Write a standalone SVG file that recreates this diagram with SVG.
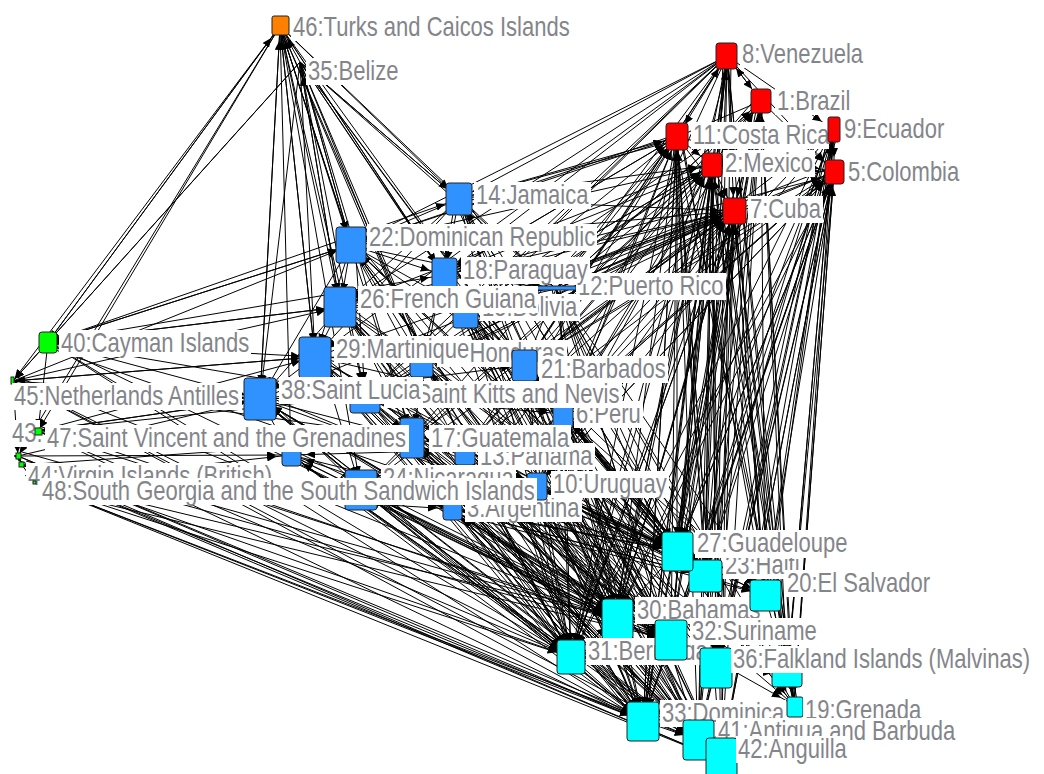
<svg xmlns="http://www.w3.org/2000/svg" width="1044" height="774" viewBox="0 0 1044 774">
<style>
.e path{fill:none;stroke:#000;stroke-width:1;marker-end:url(#a)}
.e path.s{marker-end:url(#s)}
.n rect{stroke:#222;stroke-width:1}
.n rect.lb{fill:#fff;stroke:none}
.r{fill:#ff0000}.b{fill:#3092ff}.c{fill:#00ffff}.g{fill:#00ff00}.o{fill:#ff8000}
.t{font-family:"Liberation Sans",Arial,sans-serif;font-size:27.5px;fill:#84858b}
</style>
<defs>
<marker id="a" markerUnits="userSpaceOnUse" markerWidth="26" markerHeight="8" refX="24" refY="4" orient="auto"><path d="M0 0L9 4L0 8z" fill="#000"/></marker>
<marker id="s" markerUnits="userSpaceOnUse" markerWidth="14" markerHeight="8" refX="12" refY="4" orient="auto"><path d="M0 0L9 4L0 8z" fill="#000"/></marker>
</defs>
<rect width="1044" height="774" fill="#fff"/>
<g id="edges" class="e">
<path d="M727 56L761 101"/><path d="M727 56L677 137"/><path d="M727 56L712 165"/><path d="M727 56L734 211"/><path d="M727 56L834 172"/><path d="M727 56L834 130"/><path d="M761 101L677 137"/><path d="M761 101L712 165"/><path d="M761 101L834 172"/><path d="M834 130L834 172"/><path d="M677 137L712 165"/><path d="M677 137L734 211"/><path d="M712 165L734 211"/><path d="M712 165L834 172"/><path d="M734 211L834 172"/><path d="M677 137L834 172"/><path d="M761 101L734 211"/><path d="M761 101L727 56"/>
<path d="M727 56L459 199"/><path d="M727 56L351 245"/><path d="M727 56L340 307"/><path d="M727 56L444 275"/><path d="M727 56L466 309"/><path d="M727 56L315 357"/><path d="M727 56L556 289"/><path d="M727 56L525 365"/><path d="M727 56L421 358"/><path d="M727 56L563 414"/><path d="M727 56L365 396"/>
<path d="M280 26L351 245"/><path d="M280 26L340 307"/><path d="M280 26L315 357"/><path d="M280 26L260 399"/><path d="M280 26L459 199"/><path d="M280 26L444 275"/><path d="M280 26L466 309"/><path d="M280 26L421 358"/><path d="M280 26L365 396"/><path d="M280 26L412 438"/><path class="s" d="M280 26L48 342"/><path class="s" d="M280 26L13 381"/><path class="s" d="M280 26L38 431"/><path class="s" d="M280 26L18 456"/><path d="M280 26L556 289"/><path d="M280 26L525 365"/><path d="M280 26L291 455"/><path d="M280 26L361 490"/><path d="M280 26L465 450"/><path d="M351 245L280 26"/><path d="M315 357L280 26"/><path d="M260 399L280 26"/><path d="M48 342L280 26"/><path d="M300 62L280 26"/>
<path d="M300 62L351 245"/><path d="M300 62L340 307"/><path d="M300 62L315 357"/><path d="M300 62L459 199"/><path d="M300 62L444 275"/><path d="M300 62L466 309"/><path d="M300 62L421 358"/><path d="M300 62L525 365"/><path d="M300 62L556 289"/><path d="M300 62L365 396"/><path d="M300 62L563 414"/><path d="M300 62L412 438"/><path d="M300 62L260 399"/><path class="s" d="M300 62L48 342"/><path class="s" d="M300 62L13 381"/><path d="M300 62L465 450"/><path d="M459 199L300 62"/><path d="M351 245L300 62"/><path d="M340 307L300 62"/>
<path d="M48 342L351 245"/><path d="M48 342L340 307"/><path d="M48 342L315 357"/><path d="M48 342L459 199"/><path d="M48 342L444 275"/><path d="M48 342L260 399"/><path class="s" d="M351 245L48 342"/><path d="M13 381L351 245"/><path d="M13 381L340 307"/><path d="M13 381L315 357"/><path d="M13 381L260 399"/><path d="M38 431L260 399"/><path d="M38 431L315 357"/><path d="M18 456L260 399"/><path d="M22 465L412 438"/><path d="M35 483L361 490"/><path d="M35 483L291 455"/><path d="M38 431L365 396"/><path class="s" d="M48 342L13 381"/><path class="s" d="M13 381L18 456"/><path class="s" d="M48 342L38 431"/><path class="s" d="M22 465L35 483"/><path class="s" d="M18 456L22 465"/><path class="s" d="M340 307L48 342"/><path class="s" d="M315 357L13 381"/><path class="s" d="M260 399L38 431"/>
<path d="M13 381L412 438"/><path d="M38 431L412 438"/><path d="M22 465L361 490"/><path d="M35 483L452 509"/><path d="M48 342L365 396"/><path d="M18 456L291 455"/>
<path d="M35 483L643 721"/><path d="M35 483L571 657"/><path d="M35 483L698 740"/><path d="M22 465L643 721"/><path d="M22 465L571 657"/><path d="M18 456L643 721"/><path d="M18 456L698 740"/><path d="M38 431L571 657"/><path d="M38 431L643 721"/><path d="M38 431L617 618"/><path d="M13 381L571 657"/><path d="M13 381L643 721"/><path d="M48 342L571 657"/><path d="M48 342L643 721"/><path d="M48 342L617 618"/><path d="M35 483L721 760"/><path d="M13 381L698 740"/><path d="M22 465L721 760"/>
<path d="M44 346L705 576"/><path d="M17 377L617 618"/><path d="M42 427L671 640"/><path d="M22 452L617 618"/><path d="M26 461L671 640"/><path d="M39 479L617 618"/><path d="M35 487L671 640"/><path d="M18 460L721 760"/>
<path d="M459 199L351 245"/><path d="M459 199L340 307"/><path d="M459 199L444 275"/><path d="M459 199L315 357"/><path d="M351 245L340 307"/><path d="M351 245L444 275"/><path d="M351 245L315 357"/><path d="M351 245L260 399"/><path d="M351 245L466 309"/><path d="M340 307L315 357"/><path d="M340 307L260 399"/><path d="M340 307L466 309"/><path d="M340 307L421 358"/><path d="M444 275L466 309"/><path d="M444 275L556 289"/><path d="M315 357L260 399"/><path d="M315 357L421 358"/><path d="M315 357L365 396"/><path d="M315 357L525 365"/><path d="M260 399L365 396"/><path d="M260 399L412 438"/><path d="M260 399L291 455"/><path d="M421 358L525 365"/><path d="M421 358L365 396"/><path d="M365 396L412 438"/><path d="M365 396L563 414"/><path d="M412 438L465 450"/><path d="M412 438L361 490"/><path d="M465 450L537 486"/><path d="M465 450L452 509"/><path d="M361 490L452 509"/><path d="M291 455L361 490"/><path d="M525 365L563 414"/><path d="M466 309L525 365"/><path d="M556 289L525 365"/><path d="M563 414L537 486"/><path d="M351 245L556 289"/><path d="M340 307L556 289"/><path d="M260 399L525 365"/><path d="M315 357L563 414"/><path d="M459 199L556 289"/><path d="M351 245L525 365"/>
<path d="M455 203L412 438"/><path d="M355 241L365 396"/><path d="M344 303L412 438"/><path d="M319 353L361 490"/><path d="M264 395L361 490"/><path d="M425 354L465 450"/><path d="M528 360L537 486"/><path d="M566 410L452 509"/><path d="M448 271L525 365"/><path d="M470 305L563 414"/><path d="M560 293L563 414"/><path d="M416 434L537 486"/><path d="M369 392L465 450"/><path d="M465 450L291 455"/><path d="M537 486L361 490"/><path d="M452 509L291 455"/><path d="M525 365L465 450"/><path d="M444 275L421 358"/><path d="M466 309L365 396"/><path d="M556 289L466 309"/>
<path d="M459 199L677 137"/><path d="M459 199L712 165"/><path d="M459 199L734 211"/><path d="M351 245L677 137"/><path d="M351 245L712 165"/><path d="M351 245L734 211"/><path d="M444 275L734 211"/><path d="M444 275L677 137"/><path d="M556 289L734 211"/><path d="M556 289L712 165"/><path d="M556 289L834 172"/><path d="M466 309L734 211"/><path d="M466 309L712 165"/><path d="M525 365L734 211"/><path d="M525 365L834 172"/><path d="M563 414L734 211"/><path d="M563 414L834 172"/><path d="M537 486L734 211"/><path d="M537 486L834 172"/><path d="M465 450L734 211"/><path d="M452 509L734 211"/><path d="M452 509L712 165"/><path d="M340 307L734 211"/><path d="M315 357L734 211"/><path d="M421 358L734 211"/><path d="M421 358L712 165"/><path d="M365 396L734 211"/><path d="M412 438L734 211"/><path d="M412 438L712 165"/><path d="M361 490L734 211"/><path d="M260 399L734 211"/><path d="M537 486L712 165"/><path d="M563 414L677 137"/><path d="M525 365L677 137"/><path d="M465 450L834 172"/><path d="M452 509L834 172"/><path d="M556 289L677 137"/><path d="M556 289L761 101"/><path d="M466 309L677 137"/><path d="M734 211L556 289"/><path d="M734 211L525 365"/><path d="M677 137L444 275"/><path d="M712 165L466 309"/><path d="M834 172L563 414"/><path d="M834 172L537 486"/><path d="M834 130L525 365"/><path d="M834 130L537 486"/><path d="M761 101L556 289"/>
<path d="M673 141L459 199"/><path d="M681 133L351 245"/><path d="M708 169L444 275"/><path d="M716 161L340 307"/><path d="M738 207L466 309"/><path d="M730 215L421 358"/><path d="M738 215L365 396"/><path d="M838 176L525 365"/><path d="M830 168L466 309"/><path d="M830 176L444 275"/><path d="M834 126L563 414"/><path d="M765 105L466 309"/><path d="M757 97L525 365"/>
<path d="M541 482L677 137"/><path d="M448 513L677 137"/><path d="M469 446L761 101"/><path d="M567 410L761 101"/><path d="M529 361L727 56"/><path d="M461 453L712 165"/><path d="M357 494L712 165"/><path d="M408 442L677 137"/><path d="M563 418L712 165"/><path d="M365 400L712 165"/>
<path d="M727 56L677 551"/><path d="M727 56L705 576"/><path d="M727 56L765 595"/><path d="M727 56L617 618"/><path d="M727 56L671 640"/><path d="M727 56L716 668"/><path d="M727 56L794 705"/><path d="M727 56L643 721"/>
<path d="M761 101L677 551"/><path d="M761 101L705 576"/><path d="M761 101L765 595"/><path d="M761 101L671 640"/><path d="M761 101L716 668"/><path d="M761 101L787 674"/><path d="M761 101L794 705"/><path d="M761 101L698 740"/><path d="M761 101L721 760"/>
<path d="M677 137L677 551"/><path d="M677 137L705 576"/><path d="M677 137L617 618"/><path d="M677 137L671 640"/><path d="M677 137L571 657"/><path d="M677 137L716 668"/><path d="M677 137L643 721"/><path d="M677 137L698 740"/>
<path d="M834 130L677 551"/><path d="M834 130L705 576"/><path d="M834 130L765 595"/><path d="M834 130L716 668"/><path d="M834 130L787 674"/><path d="M834 130L794 705"/><path d="M834 130L721 760"/>
<path d="M712 165L677 551"/><path d="M712 165L705 576"/><path d="M712 165L765 595"/><path d="M712 165L617 618"/><path d="M712 165L671 640"/><path d="M712 165L571 657"/><path d="M712 165L716 668"/><path d="M712 165L643 721"/><path d="M712 165L698 740"/><path d="M712 165L721 760"/>
<path d="M834 172L677 551"/><path d="M834 172L705 576"/><path d="M834 172L765 595"/><path d="M834 172L617 618"/><path d="M834 172L671 640"/><path d="M834 172L716 668"/><path d="M834 172L787 674"/><path d="M834 172L794 705"/><path d="M834 172L643 721"/><path d="M834 172L698 740"/><path d="M834 172L721 760"/>
<path d="M734 211L677 551"/><path d="M734 211L705 576"/><path d="M734 211L765 595"/><path d="M734 211L617 618"/><path d="M734 211L671 640"/><path d="M734 211L571 657"/><path d="M734 211L716 668"/><path d="M734 211L787 674"/><path d="M734 211L794 705"/><path d="M734 211L643 721"/><path d="M734 211L698 740"/><path d="M734 211L721 760"/>
<path d="M731 52L571 657"/><path d="M723 60L698 740"/><path d="M731 60L721 760"/><path d="M727 52L787 674"/><path d="M765 97L617 618"/><path d="M757 105L643 721"/><path d="M765 105L571 657"/><path d="M681 133L765 595"/><path d="M673 141L721 760"/><path d="M681 141L787 674"/><path d="M673 133L794 705"/><path d="M838 126L617 618"/><path d="M830 134L671 640"/><path d="M838 134L643 721"/><path d="M830 126L698 740"/><path d="M834 126L571 657"/><path d="M716 161L787 674"/><path d="M708 169L794 705"/><path d="M838 168L571 657"/>
<path d="M677 551L834 172"/><path d="M765 595L734 211"/><path d="M716 668L712 165"/><path d="M794 705L834 172"/><path d="M643 721L677 137"/><path d="M617 618L734 211"/><path d="M671 640L727 56"/><path d="M698 740L734 211"/><path d="M705 576L712 165"/><path d="M787 674L834 130"/><path d="M721 760L834 172"/><path d="M571 657L734 211"/>
<path d="M681 547L761 101"/><path d="M709 572L677 137"/><path d="M769 591L834 130"/><path d="M791 670L761 101"/><path d="M720 664L834 130"/><path d="M797 701L712 165"/><path d="M647 717L712 165"/><path d="M674 636L834 172"/><path d="M614 614L712 165"/>
<path d="M459 199L677 551"/><path d="M459 199L617 618"/><path d="M459 199L571 657"/><path d="M459 199L671 640"/><path d="M459 199L643 721"/><path d="M459 199L716 668"/><path d="M459 199L698 740"/>
<path d="M351 245L677 551"/><path d="M351 245L705 576"/><path d="M351 245L617 618"/><path d="M351 245L571 657"/><path d="M351 245L671 640"/><path d="M351 245L643 721"/><path d="M351 245L698 740"/><path d="M351 245L721 760"/>
<path d="M444 275L677 551"/><path d="M444 275L705 576"/><path d="M444 275L617 618"/><path d="M444 275L571 657"/><path d="M444 275L643 721"/><path d="M444 275L716 668"/>
<path d="M556 289L677 551"/><path d="M556 289L705 576"/><path d="M556 289L765 595"/><path d="M556 289L617 618"/><path d="M556 289L671 640"/><path d="M556 289L716 668"/><path d="M556 289L794 705"/>
<path d="M340 307L677 551"/><path d="M340 307L617 618"/><path d="M340 307L571 657"/><path d="M340 307L671 640"/><path d="M340 307L643 721"/><path d="M340 307L698 740"/><path d="M340 307L721 760"/><path d="M340 307L716 668"/>
<path d="M466 309L677 551"/><path d="M466 309L705 576"/><path d="M466 309L617 618"/><path d="M466 309L571 657"/><path d="M466 309L671 640"/><path d="M466 309L643 721"/><path d="M466 309L716 668"/>
<path d="M315 357L677 551"/><path d="M315 357L705 576"/><path d="M315 357L617 618"/><path d="M315 357L571 657"/><path d="M315 357L671 640"/><path d="M315 357L643 721"/><path d="M315 357L698 740"/><path d="M315 357L721 760"/>
<path d="M421 358L677 551"/><path d="M421 358L617 618"/><path d="M421 358L571 657"/><path d="M421 358L643 721"/><path d="M421 358L716 668"/><path d="M421 358L698 740"/>
<path d="M525 365L677 551"/><path d="M525 365L705 576"/><path d="M525 365L765 595"/><path d="M525 365L671 640"/><path d="M525 365L716 668"/><path d="M525 365L794 705"/><path d="M525 365L787 674"/>
<path d="M260 399L677 551"/><path d="M260 399L617 618"/><path d="M260 399L571 657"/><path d="M260 399L671 640"/><path d="M260 399L643 721"/><path d="M260 399L698 740"/><path d="M260 399L721 760"/><path d="M260 399L716 668"/>
<path d="M365 396L677 551"/><path d="M365 396L705 576"/><path d="M365 396L617 618"/><path d="M365 396L571 657"/><path d="M365 396L643 721"/><path d="M365 396L698 740"/><path d="M365 396L716 668"/>
<path d="M563 414L677 551"/><path d="M563 414L705 576"/><path d="M563 414L765 595"/><path d="M563 414L617 618"/><path d="M563 414L671 640"/><path d="M563 414L716 668"/><path d="M563 414L787 674"/><path d="M563 414L794 705"/>
<path d="M412 438L677 551"/><path d="M412 438L617 618"/><path d="M412 438L571 657"/><path d="M412 438L671 640"/><path d="M412 438L643 721"/><path d="M412 438L698 740"/><path d="M412 438L721 760"/>
<path d="M465 450L677 551"/><path d="M465 450L705 576"/><path d="M465 450L617 618"/><path d="M465 450L571 657"/><path d="M465 450L671 640"/><path d="M465 450L643 721"/><path d="M465 450L716 668"/>
<path d="M291 455L617 618"/><path d="M291 455L571 657"/><path d="M291 455L643 721"/><path d="M291 455L698 740"/><path d="M291 455L721 760"/><path d="M291 455L677 551"/>
<path d="M361 490L677 551"/><path d="M361 490L617 618"/><path d="M361 490L571 657"/><path d="M361 490L671 640"/><path d="M361 490L643 721"/><path d="M361 490L698 740"/><path d="M361 490L721 760"/>
<path d="M537 486L677 551"/><path d="M537 486L705 576"/><path d="M537 486L765 595"/><path d="M537 486L617 618"/><path d="M537 486L671 640"/><path d="M537 486L571 657"/><path d="M537 486L716 668"/><path d="M537 486L794 705"/><path d="M537 486L643 721"/>
<path d="M452 509L677 551"/><path d="M452 509L705 576"/><path d="M452 509L617 618"/><path d="M452 509L571 657"/><path d="M452 509L671 640"/><path d="M452 509L643 721"/><path d="M452 509L698 740"/><path d="M452 509L721 760"/>
<path d="M540 480L721 760"/><path d="M534 492L698 740"/><path d="M540 490L787 674"/><path d="M455 505L716 668"/><path d="M449 512L765 595"/><path d="M455 514L794 705"/><path d="M468 446L698 740"/><path d="M462 454L721 760"/><path d="M470 452L765 595"/><path d="M560 418L571 657"/><path d="M566 410L643 721"/><path d="M560 410L698 740"/><path d="M566 418L721 760"/><path d="M365 486L705 576"/><path d="M357 494L716 668"/><path d="M416 434L705 576"/><path d="M408 442L716 668"/><path d="M369 392L671 640"/><path d="M361 400L721 760"/><path d="M528 360L617 618"/><path d="M522 370L571 657"/><path d="M528 370L643 721"/><path d="M522 360L698 740"/><path d="M530 366L721 760"/><path d="M425 354L705 576"/><path d="M417 362L671 640"/><path d="M425 362L721 760"/><path d="M319 353L716 668"/><path d="M264 395L705 576"/><path d="M344 303L705 576"/><path d="M355 241L716 668"/><path d="M470 305L698 740"/><path d="M462 313L721 760"/><path d="M448 271L671 640"/><path d="M440 279L698 740"/><path d="M448 279L721 760"/><path d="M463 195L705 576"/><path d="M455 203L721 760"/><path d="M560 289L571 657"/><path d="M552 289L643 721"/><path d="M560 291L698 740"/><path d="M556 292L787 674"/><path d="M295 451L671 640"/><path d="M287 459L716 668"/>
<path d="M571 657L260 399"/><path d="M643 721L315 357"/><path d="M617 618L351 245"/><path d="M677 551L459 199"/><path d="M698 740L340 307"/><path d="M671 640L412 438"/><path d="M643 721L361 490"/><path d="M571 657L465 450"/><path d="M617 618L452 509"/><path d="M677 551L537 486"/>
<path d="M674 555L351 245"/><path d="M620 614L260 399"/><path d="M568 661L315 357"/><path d="M646 717L340 307"/><path d="M701 736L452 509"/><path d="M668 644L537 486"/><path d="M713 672L465 450"/><path d="M702 580L563 414"/><path d="M640 725L412 438"/><path d="M614 622L361 490"/><path d="M574 653L291 455"/><path d="M680 547L525 365"/>
<path d="M677 551L705 576"/><path d="M705 576L765 595"/><path d="M617 618L671 640"/><path d="M571 657L617 618"/><path d="M671 640L716 668"/><path d="M716 668L787 674"/><path d="M787 674L794 705"/><path d="M643 721L698 740"/><path d="M698 740L721 760"/><path d="M571 657L643 721"/><path d="M677 551L617 618"/><path d="M716 668L698 740"/><path d="M765 595L787 674"/><path d="M671 640L643 721"/>
</g>
<g id="n35" class="n"><rect class="lb" x="306" y="58" width="95" height="27"/><text class="t" transform="translate(308 80) scale(.8 1)">35:Belize</text></g>
<g id="n46" class="n"><rect class="o" x="272" y="16" width="17" height="19" rx="2"/><rect class="lb" x="291" y="14" width="282" height="27"/><text class="t" transform="translate(293 36) scale(.8 1)">46:Turks and Caicos Islands</text></g>
<g id="n8" class="n"><rect class="r" x="716" y="43" width="21" height="26" rx="3"/><rect class="lb" x="740" y="41" width="126" height="27"/><text class="t" transform="translate(742 63) scale(.8 1)">8:Venezuela</text></g>
<g id="n1" class="n"><rect class="r" x="751" y="89" width="20" height="24" rx="3"/><rect class="lb" x="775" y="88" width="77" height="27"/><text class="t" transform="translate(777 110) scale(.8 1)">1:Brazil</text></g>
<g id="n11" class="n"><rect class="r" x="666" y="123" width="22" height="27" rx="3"/><rect class="lb" x="691" y="122" width="138" height="27"/><text class="t" transform="translate(693 144) scale(.8 1)">11:Costa Rica</text></g>
<g id="n9" class="n"><rect class="r" x="828" y="117" width="12" height="25" rx="2"/><rect class="lb" x="842" y="116" width="104" height="27"/><text class="t" transform="translate(844 138) scale(.8 1)">9:Ecuador</text></g>
<g id="n2" class="n"><rect class="r" x="702" y="153" width="20" height="24" rx="3"/><rect class="lb" x="723" y="150" width="92" height="27"/><text class="t" transform="translate(725 172) scale(.8 1)">2:Mexico</text></g>
<g id="n5" class="n"><rect class="r" x="825" y="160" width="19" height="24" rx="3"/><rect class="lb" x="846" y="159" width="115" height="27"/><text class="t" transform="translate(848 181) scale(.8 1)">5:Colombia</text></g>
<g id="n7" class="n"><rect class="r" x="723" y="198" width="23" height="26" rx="3"/><rect class="lb" x="748" y="196" width="75" height="27"/><text class="t" transform="translate(750 218) scale(.8 1)">7:Cuba</text></g>
<g id="n14" class="n"><rect class="b" x="446" y="183" width="26" height="32" rx="3"/><rect class="lb" x="474" y="182" width="117" height="27"/><text class="t" transform="translate(476 204) scale(.8 1)">14:Jamaica</text></g>
<g id="n12" class="n"><rect class="b" x="537" y="286" width="39" height="4"/><rect class="lb" x="576" y="273" width="150" height="27"/><text class="t" transform="translate(578 295) scale(.8 1)">12:Puerto Rico</text></g>
<g id="n22" class="n"><rect class="b" x="336" y="227" width="30" height="36" rx="3"/><rect class="lb" x="367" y="224" width="230" height="27"/><text class="t" transform="translate(369 246) scale(.8 1)">22:Dominican Republic</text></g>
<g id="n18" class="n"><rect class="b" x="432" y="258" width="25" height="34" rx="3"/><rect class="lb" x="461" y="257" width="129" height="27"/><text class="t" transform="translate(463 279) scale(.8 1)">18:Paraguay</text></g>
<g id="n15" class="n"><rect class="b" x="453" y="290" width="25" height="38" rx="3"/><rect class="lb" x="480" y="294" width="100" height="27"/><text class="t" transform="translate(482 316) scale(.8 1)">15:Bolivia</text></g>
<g id="n26" class="n"><rect class="b" x="324" y="287" width="32" height="40" rx="3"/><rect class="lb" x="358" y="286" width="180" height="27"/><text class="t" transform="translate(360 308) scale(.8 1)">26:French Guiana</text></g>
<g id="n16" class="n"><rect class="b" x="410" y="340" width="23" height="37" rx="3"/><rect class="lb" x="437" y="340" width="130" height="27"/><text class="t" transform="translate(439 362) scale(.8 1)">16:Honduras</text></g>
<g id="n29" class="n"><rect class="b" x="299" y="337" width="32" height="41" rx="3"/><rect class="lb" x="334" y="336" width="137" height="27"/><text class="t" transform="translate(336 358) scale(.8 1)">29:Martinique</text></g>
<g id="n21" class="n"><rect class="b" x="512" y="350" width="25" height="31" rx="3"/><rect class="lb" x="539" y="356" width="129" height="27"/><text class="t" transform="translate(541 378) scale(.8 1)">21:Barbados</text></g>
<g id="n6" class="n"><rect class="b" x="553" y="400" width="20" height="28" rx="3"/><rect class="lb" x="574" y="401" width="69" height="27"/><text class="t" transform="translate(576 423) scale(.8 1)">6:Peru</text></g>
<g id="n25" class="n"><rect class="b" x="350" y="380" width="30" height="33" rx="3"/><rect class="lb" x="384" y="381" width="238" height="27"/><text class="t" transform="translate(386 403) scale(.8 1)">25:Saint Kitts and Nevis</text></g>
<g id="n38" class="n"><rect class="b" x="244" y="378" width="32" height="42" rx="3"/><rect class="lb" x="279" y="377" width="144" height="27"/><text class="t" transform="translate(281 399) scale(.8 1)">38:Saint Lucia</text></g>
<g id="n45" class="n"><rect class="g" x="11" y="377" width="3" height="7"/><rect class="lb" x="12" y="383" width="230" height="27"/><text class="t" transform="translate(14 405) scale(.8 1)">45:Netherlands Antilles</text></g>
<g id="n40" class="n"><rect class="g" x="39" y="332" width="18" height="21" rx="3"/><rect class="lb" x="59" y="330" width="192" height="27"/><text class="t" transform="translate(61 352) scale(.8 1)">40:Cayman Islands</text></g>
<g id="n13" class="n"><rect class="b" x="455" y="435" width="20" height="30" rx="3"/><rect class="lb" x="478" y="443" width="117" height="27"/><text class="t" transform="translate(480 465) scale(.8 1)">13:Panama</text></g>
<g id="n17" class="n"><rect class="b" x="400" y="418" width="24" height="40" rx="3"/><rect class="lb" x="429" y="425" width="142" height="27"/><text class="t" transform="translate(431 447) scale(.8 1)">17:Guatemala</text></g>
<g id="n43" class="n"><rect class="g" x="16" y="453" width="5" height="6"/><rect class="lb" x="10" y="420" width="30" height="27"/><text class="t" transform="translate(12 442) scale(.8 1)">43:</text></g>
<g id="n34" class="n"><rect class="b" x="282" y="445" width="19" height="21" rx="3"/></g>
<g id="n47" class="n"><rect class="g" x="35" y="428" width="7" height="7"/><rect class="lb" x="45" y="425" width="364" height="27"/><text class="t" transform="translate(47 447) scale(.8 1)">47:Saint Vincent and the Grenadines</text></g>
<g id="n24" class="n"><rect class="b" x="345" y="470" width="32" height="40" rx="3"/><rect class="lb" x="381" y="465" width="135" height="27"/><text class="t" transform="translate(383 487) scale(.8 1)">24:Nicaragua</text></g>
<g id="n44" class="n"><rect class="g" x="19" y="462" width="5" height="5"/><rect class="lb" x="26" y="463" width="249" height="27"/><text class="t" transform="translate(28 485) scale(.8 1)">44:Virgin Islands (British)</text></g>
<g id="n3" class="n"><rect class="b" x="443" y="498" width="19" height="22" rx="3"/><rect class="lb" x="465" y="495" width="117" height="27"/><text class="t" transform="translate(467 517) scale(.8 1)">3:Argentina</text></g>
<g id="n10" class="n"><rect class="b" x="527" y="473" width="20" height="27" rx="3"/><rect class="lb" x="551" y="471" width="118" height="27"/><text class="t" transform="translate(553 493) scale(.8 1)">10:Uruguay</text></g>
<g id="n48" class="n"><rect class="g" x="33" y="481" width="3" height="3"/><rect class="lb" x="40" y="478" width="497" height="27"/><text class="t" transform="translate(42 500) scale(.8 1)">48:South Georgia and the South Sandwich Islands</text></g>
<g id="n23" class="n"><rect class="c" x="689" y="560" width="33" height="32" rx="3"/><rect class="lb" x="723" y="552" width="79" height="27"/><text class="t" transform="translate(725 574) scale(.8 1)">23:Haiti</text></g>
<g id="n27" class="n"><rect class="c" x="662" y="532" width="31" height="39" rx="3"/><rect class="lb" x="695" y="530" width="154" height="28"/><text class="t" transform="translate(697 552) scale(.8 1)">27:Guadeloupe</text></g>
<g id="n30" class="n"><rect class="c" x="602" y="599" width="31" height="40" rx="3"/><rect class="lb" x="635" y="597" width="128" height="27"/><text class="t" transform="translate(637 619) scale(.8 1)">30:Bahamas</text></g>
<g id="n20" class="n"><rect class="c" x="750" y="580" width="31" height="31" rx="3"/><rect class="lb" x="785" y="570" width="147" height="27"/><text class="t" transform="translate(787 592) scale(.8 1)">20:El Salvador</text></g>
<g id="n31" class="n"><rect class="c" x="557" y="640" width="28" height="34" rx="3"/><rect class="lb" x="586" y="638" width="124" height="27"/><text class="t" transform="translate(588 660) scale(.8 1)">31:Bermuda</text></g>
<g id="n32" class="n"><rect class="c" x="655" y="620" width="32" height="40" rx="3"/><rect class="lb" x="690" y="618" width="129" height="27"/><text class="t" transform="translate(692 640) scale(.8 1)">32:Suriname</text></g>
<g id="n37" class="n"><rect class="c" x="772" y="655" width="30" height="32" rx="3"/></g>
<g id="n36" class="n"><rect class="c" x="700" y="648" width="32" height="40" rx="3"/><rect class="lb" x="731" y="646" width="301" height="27"/><text class="t" transform="translate(733 668) scale(.8 1)">36:Falkland Islands (Malvinas)</text></g>
<g id="n33" class="n"><rect class="c" x="627" y="702" width="32" height="39" rx="3"/><rect class="lb" x="660" y="700" width="126" height="27"/><text class="t" transform="translate(662 722) scale(.8 1)">33:Dominica</text></g>
<g id="n19" class="n"><rect class="c" x="787" y="697" width="16" height="20" rx="2"/><rect class="lb" x="803" y="697" width="120" height="27"/><text class="t" transform="translate(805 719) scale(.8 1)">19:Grenada</text></g>
<g id="n41" class="n"><rect class="c" x="683" y="720" width="31" height="40" rx="3"/><rect class="lb" x="716" y="718" width="241" height="27"/><text class="t" transform="translate(718 740) scale(.8 1)">41:Antigua and Barbuda</text></g>
<g id="n42" class="n"><rect class="c" x="706" y="738" width="31" height="40" rx="3"/><rect class="lb" x="736" y="736" width="113" height="27"/><text class="t" transform="translate(738 758) scale(.8 1)">42:Anguilla</text></g>
</svg>
